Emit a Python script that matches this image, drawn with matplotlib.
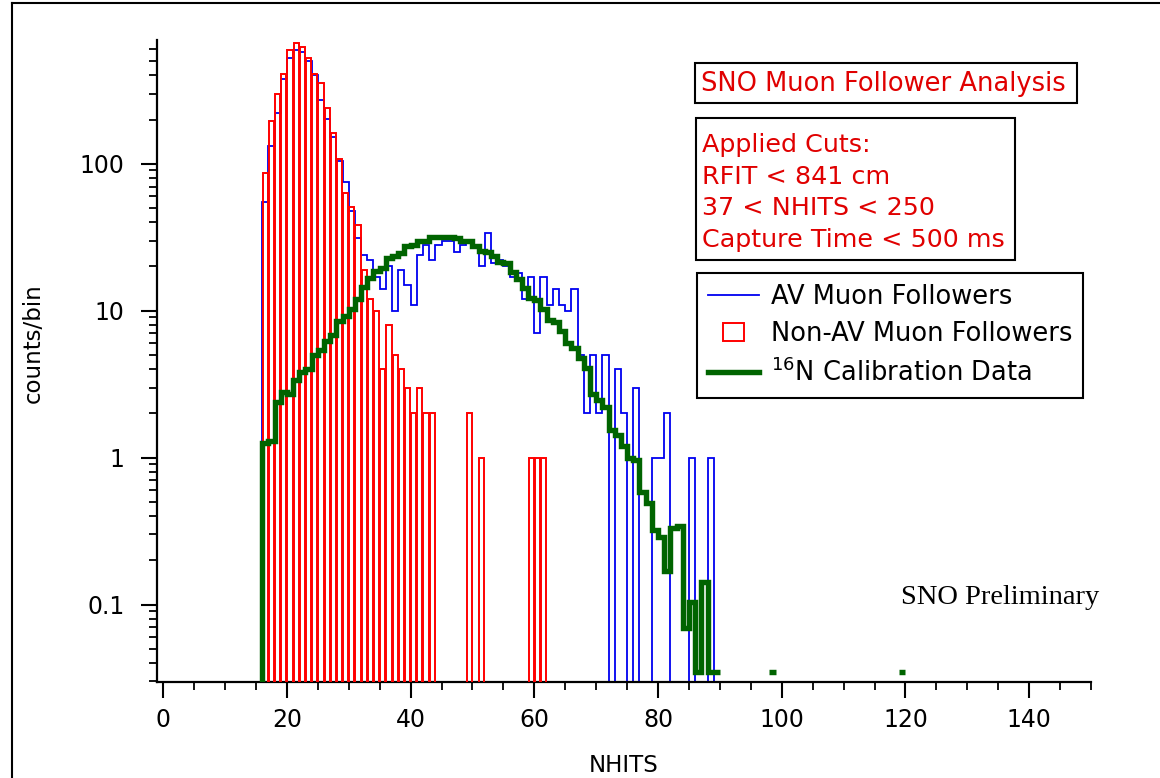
import numpy as np
import matplotlib
matplotlib.use("Agg")
import matplotlib.pyplot as plt
from matplotlib.lines import Line2D
from matplotlib.patches import Rectangle
from matplotlib.legend_handler import HandlerPatch
from matplotlib.ticker import FixedLocator, MultipleLocator, LogLocator, NullFormatter

# ---------------- data (counts per 1-NHIT bin) ----------------
# Non-AV muon followers (red hollow bars), bins starting at NHITS=16
red_start = 16
red_counts = [87, 196, 298, 411, 597, 668, 628, 528, 411, 352, 239, 162, 108, 63,
              51, 38, 19, 12, 10, 4, 8, 5, 4, 3, 2, 3, 2, 2,            # 16-43
              0, 0, 0, 0, 0, 2, 0, 1, 0, 0, 0, 0, 0, 0, 0, 1, 1, 1]     # 44-61

# AV muon followers (blue step), bins starting at NHITS=15
blue_start = 15
blue_counts = [0,
               55, 133, 220, 377, 524, 597, 572, 500, 400, 271,          # 16-25
               201, 151, 105, 75, 48, 31, 24, 22, 17, 14,               # 26-35
               20, 10, 19, 15, 11, 24, 28, 22, 28, 30,                  # 36-45
               30, 25, 28, 29, 28, 20, 34, 21, 22, 20,                  # 46-55
               17, 18, 12, 17, 7, 17, 11, 14, 11, 10,                   # 56-65
               14, 5, 2, 5, 2, 5, 0, 4, 2, 0,                           # 66-75
               3, 0, 0, 1, 1, 2, 0, 0, 0, 1,                            # 76-85
               0, 0, 1, 0]                                              # 86-89

# 16N calibration data (green step, scaled), bins starting at NHITS=15
nan = np.nan
green_start = 15
green_vals = [0,
              1.25, 1.3, 2.4, 2.8, 2.7, 3.4, 3.8, 4.0, 5.0, 5.4,         # 16-25
              6.2, 6.8, 8.5, 9.2, 10.3, 12.0, 14.4, 16.8, 18.7, 19.5,   # 26-35
              23.0, 23.5, 24.5, 27.5, 28.0, 29.8, 30.0, 31.6, 31.6, 31.8,  # 36-45
              31.5, 31.4, 30.0, 29.8, 27.7, 25.6, 25.2, 23.6, 21.3, 21.0,  # 46-55
              18.2, 16.4, 14.2, 12.2, 11.8, 10.3, 8.6, 8.4, 7.3, 6.0,   # 56-65
              5.6, 4.8, 4.1, 2.7, 2.45, 2.2, 1.55, 1.42, 1.2, 1.0,      # 66-75
              0.96, 0.58, 0.49, 0.32, 0.29, 0.17, 0.33, 0.345, 0.069, 0.104,  # 76-85
              0.0345, 0.142, 0.0345, 0.0345,                            # 86-89
              nan, nan, nan, nan, nan, nan, nan, nan,                   # 90-97
              0.0345,                                                   # 98
              nan, nan, nan, nan, nan, nan, nan, nan, nan, nan,         # 99-108
              nan, nan, nan, nan, nan, nan, nan, nan, nan, nan,         # 109-118
              0.0345]                                                   # 119

x_major = [0, 20, 40, 60, 80, 100, 120, 140]
y_major = [0.1, 1, 10, 100]
y_labels = ["0.1", "1", "10", "100"]

legend_labels = ["AV Muon Followers", "Non-AV Muon Followers", "$^{16}$N Calibration Data"]
title_text = "SNO Muon Follower Analysis"
cuts_lines = ["Applied Cuts:", "RFIT < 841 cm", "37 < NHITS < 250", "Capture Time < 500 ms"]

# ---------------- figure ----------------
W, H = 1160, 778
fig = plt.figure(figsize=(W / 100, H / 100), dpi=100)
fig.patch.set_facecolor("white")

def fx(px):
    return px / W

def fy(py):
    return 1 - py / H

ax_l, ax_r, ax_t, ax_b = 157, 1091, 40.5, 682
ax = fig.add_axes([fx(ax_l), fy(ax_b), fx(ax_r - ax_l), (ax_b - ax_t) / H])
ax.set_yscale("log")
ax.set_xlim(-1, 150)
ax.set_ylim(0.0297, 690)

RED = "#ff0000"
BLUE = "#0000f0"
GREEN = "#006400"
TXTRED = "#e00000"

# blue step
b_edges = np.arange(blue_start, blue_start + len(blue_counts) + 1)
ax.stairs(blue_counts, b_edges, baseline=None, color=BLUE, lw=1.3, zorder=2)

# red hollow bars
rb = np.arange(red_start, red_start + len(red_counts))
rc = np.array(red_counts, dtype=float)
m = rc > 0
ax.bar(rb[m] + 0.08, rc[m], width=0.84, bottom=1e-4, align="edge",
       facecolor="none", edgecolor=RED, lw=1.4, zorder=3)

# green step
g_edges = np.arange(green_start, green_start + len(green_vals) + 1)
ax.stairs(np.array(green_vals, dtype=float), g_edges, baseline=None,
          color=GREEN, lw=3.9, zorder=4)

# axes styling
for s in ["top", "right"]:
    ax.spines[s].set_visible(False)
for s in ["left", "bottom"]:
    ax.spines[s].set_linewidth(1.6)

ax.xaxis.set_major_locator(FixedLocator(x_major))
ax.xaxis.set_minor_locator(MultipleLocator(5))
ax.yaxis.set_major_locator(FixedLocator(y_major))
ax.set_yticklabels(y_labels)
ax.yaxis.set_minor_locator(LogLocator(base=10, subs=np.arange(2, 10)))
ax.yaxis.set_minor_formatter(NullFormatter())
ax.tick_params(axis="both", which="major", direction="out", length=11.5, width=1.5,
               labelsize=17)
ax.tick_params(axis="x", which="major", pad=7)
ax.tick_params(axis="y", which="major", pad=12)
ax.tick_params(axis="both", which="minor", direction="out", length=6, width=1.3)

ax.set_xlabel("NHITS", fontsize=16.5)
ax.xaxis.set_label_coords(0.5, -0.112)
fig.text(fx(33), fy(343), "counts/bin", rotation=90, fontsize=16.5, ha="center", va="center")

# legend
def small_square(legend, orig_handle, xdescent, ydescent, width, height, fontsize):
    return Rectangle((-xdescent + 0.29 * width, -ydescent), 0.42 * width, height)

handles = [Line2D([], [], color=BLUE, lw=1.3),
           Rectangle((0, 0), 1, 1, facecolor="none", edgecolor=RED, lw=1.4),
           Line2D([], [], color=GREEN, lw=3.9)]
leg = fig.legend(handles, legend_labels, loc="upper left",
                 bbox_to_anchor=(fx(697), fy(273)), fontsize=18.5, frameon=True,
                 fancybox=False, edgecolor="black", framealpha=1, borderpad=0.42,
                 handlelength=2.0, handletextpad=0.45, labelspacing=0.45,
                 borderaxespad=0,
                 handler_map={Rectangle: HandlerPatch(patch_func=small_square)})
leg.get_frame().set_linewidth(1.5)

# text boxes
fig.patches.append(Rectangle((fx(695), fy(103)), fx(1077 - 695), (103 - 63) / H,
                             transform=fig.transFigure, facecolor="white",
                             edgecolor="black", lw=1.5))
fig.text(fx(701), fy(84), title_text, color=TXTRED, fontsize=18.5, ha="left", va="center")

fig.patches.append(Rectangle((fx(696), fy(260)), fx(1015 - 696), (260 - 118) / H,
                             transform=fig.transFigure, facecolor="white",
                             edgecolor="black", lw=1.5))
for i, line in enumerate(cuts_lines):
    fig.text(fx(702), fy(145 + 31.5 * i), line, color=TXTRED, fontsize=18.3,
             ha="left", va="center")

fig.text(fx(1099), fy(598), "SNO Preliminary", family="Liberation Serif",
         fontsize=20.5, ha="right", va="center", color="black")

# outer frame
fig.add_artist(Line2D([fx(12), fx(12)], [fy(3), 0], transform=fig.transFigure,
                      color="black", lw=1.5))
fig.add_artist(Line2D([fx(12), 1], [fy(3), fy(3)], transform=fig.transFigure,
                      color="black", lw=1.5))

fig.savefig("out.png", dpi=100)
